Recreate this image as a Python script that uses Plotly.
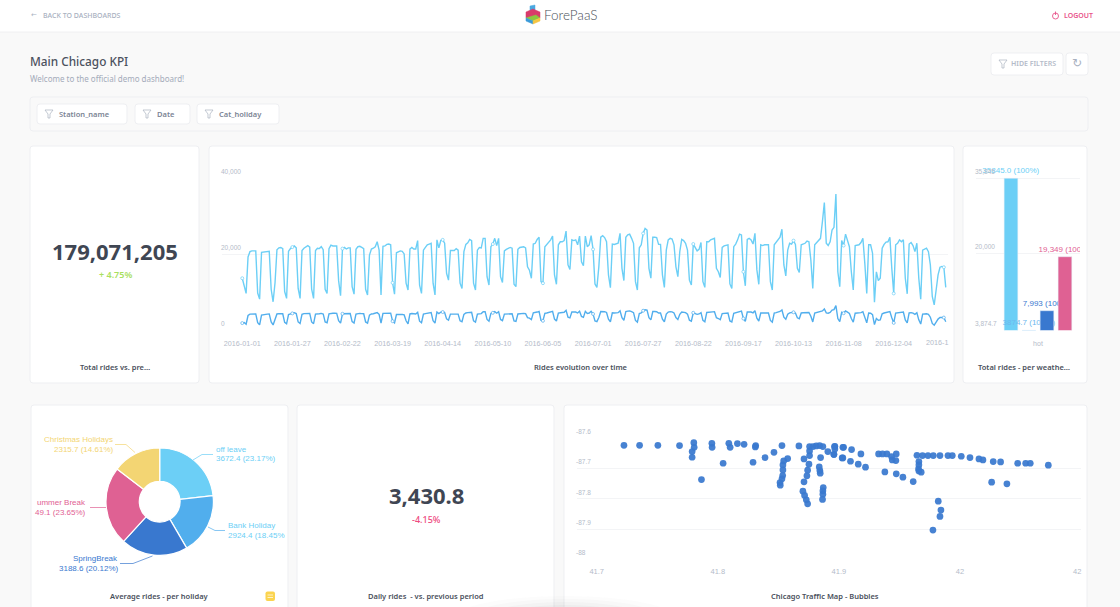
import pandas as pd
import plotly.graph_objects as go

W, H = 1120, 607

# rides per day, 2016-01-01 (fri) to 2016-12-31, one row per week mon..sun
rides_all = [13700, 11200, 9700,
    19300, 20700, 20900, 21000, 20900, 9800, 8200,
    20500, 20600, 20500, 20700, 20800, 10800, 7500,
    12500, 21200, 21700, 21800, 21500, 10200, 8400,
    20800, 21500, 21900, 22200, 21700, 11000, 8400,
    21000, 21600, 22000, 22300, 21900, 10800, 8400,
    21000, 21600, 21500, 22000, 21200, 10800, 9700,
    21500, 22400, 22200, 22300, 22200, 13000, 9100,
    21500, 21800, 21400, 21700, 21700, 11500, 9500,
    21300, 22000, 22100, 21800, 21500, 10800, 9300,
    19800, 21400, 21600, 22000, 23300, 21100, 9300,
    22100, 22200, 22600, 22700, 22500, 12500, 9500,
    20400, 20700, 20900, 20800, 20100, 12400, 10600,
    21400, 21800, 21400, 21400, 23600, 11900, 9700,
    21100, 21800, 22500, 22700, 22900, 12400, 9300,
    23800, 21700, 23600, 23800, 22900, 15000, 13200,
    21000, 21000, 21000, 21500, 21100, 12400, 11000,
    20700, 22600, 23000, 23900, 23600, 12400, 10600,
    21100, 21800, 21700, 24200, 24200, 14100, 11900,
    22000, 22700, 24200, 22300, 24200, 14100, 12600,
    20900, 21300, 21600, 21800, 21600, 12100, 11500,
    21300, 21800, 22000, 22000, 21700, 16700, 15800,
    13700, 22700, 22900, 23900, 24500, 12800, 12400,
    22000, 22600, 23100, 23800, 24800, 14600, 12100,
    22500, 23300, 23300, 23600, 26100, 17200, 16000,
    23800, 23600, 23800, 22500, 24800, 18000, 17000,
    24800, 22000, 22500, 24900, 21300, 12200, 11300,
    16700, 24500, 24900, 24400, 23300, 14600, 11200,
    22700, 22600, 22700, 22900, 25500, 16300, 13100,
    24500, 25100, 25300, 24200, 22900, 12800, 10600,
    21700, 22500, 25500, 26800, 26400, 16300, 13700,
    24500, 24500, 24400, 22600, 22600, 14600, 11300,
    21100, 23800, 24200, 24000, 22500, 16700, 14100,
    20700, 23900, 23600, 22900, 21100, 13200, 11900,
    22700, 21700, 20900, 21300, 23100, 12800, 11300,
    23300, 23300, 23800, 24000, 24200, 16300, 15400,
    13900, 21800, 22200, 22300, 22500, 12200, 11000,
    22000, 22700, 23800, 25300, 25100, 15400, 11700,
    23900, 24200, 23800, 22700, 25500, 15900, 12100,
    22500, 22300, 22500, 22500, 22500, 12800, 10600,
    22500, 23100, 23600, 24500, 26600, 17200, 14300,
    21100, 22900, 22700, 23600, 22600, 16300, 15200,
    22500, 22700, 22900, 23500, 23300, 18500, 11000,
    22500, 23100, 23600, 24200, 28600, 33600, 22900,
    22300, 23300, 26400, 27100, 35845, 15400, 11500,
    23600, 22300, 25300, 23800, 22000, 15400, 10600,
    22300, 22500, 22500, 23100, 24200, 17600, 9700,
    22500, 22500, 20300, 7400, 15400, 13100, 13700,
    21600, 22600, 23200, 23300, 24500, 16300, 9700,
    22500, 22900, 23800, 23300, 23800, 13700, 9600,
    22700, 23100, 22300, 20700, 22900, 13700, 8200,
    21100, 21400, 21600, 20700, 17200, 8900, 6700,
    10600, 14600, 16600, 16800, 16600, 11300]

rides_avg = [1900, 2050, 1600,
    3900, 4250, 4300, 4300, 4300, 2000, 1450,
    4000, 4150, 4200, 4250, 4300, 2200, 1400,
    2600, 4300, 4400, 4400, 4350, 2100, 1700,
    4150, 4350, 4450, 4650, 4400, 2200, 1800,
    4200, 4400, 4450, 4500, 4450, 2200, 1750,
    4250, 4400, 4350, 4450, 4300, 2200, 2000,
    4350, 4500, 4500, 4500, 4450, 2550, 1900,
    4350, 4400, 4300, 4350, 4400, 2300, 1900,
    4250, 4400, 4450, 4400, 4350, 2200, 1900,
    4000, 4300, 4350, 4450, 4650, 4200, 1900,
    4450, 4450, 4550, 4550, 4500, 2400, 1950,
    4150, 4200, 4200, 4200, 4050, 2500, 1700,
    4300, 4400, 4300, 4300, 4750, 2400, 2000,
    4250, 4400, 4550, 4600, 4650, 2500, 1900,
    4800, 4400, 4750, 4800, 4650, 3000, 2650,
    4250, 4250, 4250, 4350, 4250, 2500, 2250,
    4200, 4550, 4650, 4800, 4750, 2500, 2150,
    4250, 4400, 4400, 4900, 4900, 2850, 2400,
    4450, 4600, 4900, 4500, 4900, 2850, 2550,
    4250, 4300, 4350, 4400, 4350, 2450, 2350,
    4300, 4400, 4450, 4450, 4400, 3350, 3200,
    2800, 4600, 4650, 4800, 4950, 2600, 2500,
    4450, 4550, 4650, 4800, 5000, 2950, 2450,
    4550, 4700, 4700, 4750, 5250, 3450, 3250,
    4800, 4750, 4800, 4550, 5000, 3650, 3400,
    5000, 4450, 4550, 5000, 4300, 2450, 2300,
    3350, 4950, 5000, 4900, 4700, 2950, 2250,
    4600, 4550, 4600, 4650, 5150, 3300, 2650,
    4950, 5050, 5100, 4900, 4650, 2600, 2150,
    4400, 4550, 5150, 5400, 5300, 3300, 2750,
    4950, 4950, 4900, 4550, 4550, 2950, 2250,
    4250, 4800, 4900, 4850, 4550, 3350, 2850,
    4200, 4800, 4750, 4650, 4250, 2650, 2400,
    4600, 4400, 4200, 4300, 4650, 2600, 2250,
    4700, 4700, 4800, 4850, 4900, 3300, 3100,
    2800, 4400, 4500, 4500, 4550, 2450, 2200,
    4450, 4600, 4800, 5100, 5050, 3100, 2350,
    4800, 4900, 4800, 4600, 5150, 3200, 2450,
    4550, 4500, 4550, 4550, 4550, 2600, 2150,
    4550, 4650, 4750, 4950, 5350, 3450, 2900,
    4250, 4600, 4600, 4750, 4550, 3300, 3050,
    4550, 4600, 4600, 4750, 4700, 3700, 2200,
    4550, 4650, 4750, 4900, 5100, 5600, 4600,
    4500, 4700, 5300, 5450, 6500, 3100, 2300,
    4750, 4500, 5100, 4800, 4450, 3100, 2150,
    4500, 4550, 4550, 4650, 4900, 3550, 1950,
    4550, 4500, 4100, 1500, 3100, 2650, 2750,
    4350, 4550, 4700, 4700, 4950, 3300, 1950,
    4550, 4600, 4800, 4700, 4800, 2750, 1950,
    4600, 4650, 4500, 4200, 4600, 2750, 1650,
    4250, 4300, 4350, 4200, 3450, 1800, 1350,
    2150, 2950, 3350, 3400, 3350, 2250]

date_ticks = ['2016-01-01', '2016-01-27', '2016-02-22', '2016-03-19', '2016-04-14',
              '2016-05-10', '2016-06-05', '2016-07-01', '2016-07-27', '2016-08-22',
              '2016-09-17', '2016-10-13', '2016-11-08', '2016-12-04']
last_tick = '2016-12-30'
rides_ticks = [0, 20000, 40000]
rides_tick_text = ['0', '20,000', '40,000']

weather_names = ['cold', 'cool', 'warm', 'hot_days']
weather_rides = [35845.0, 3874.7, 7993, 19349]
weather_labels = ['35845.0 (100%)', '3874.7 (100%)', '7,993 (100%)', '19,349 (100%)']
weather_ticks = [3874.7, 20000, 35845]
weather_tick_text = ['3,874.7', '20,000', '35,845']

holiday_names = ['off leave', 'Bank Holiday', 'SpringBreak', 'Summer Break', 'Christmas Holidays']
holiday_rides = [3672.4, 2924.4, 3188.6, 3749.1, 2315.7]

station_lat = [41.7225, 41.7354, 41.7505, 41.7684, 41.7802, 41.7805, 41.7788, 41.7788, 41.7865, 41.7951,
               41.7953, 41.8044, 41.8091, 41.8102, 41.8162, 41.8217, 41.8291, 41.8313, 41.8310, 41.8390,
               41.8464, 41.8530, 41.8577, 41.8544, 41.8538, 41.8538, 41.8536, 41.8530, 41.8514, 41.8516,
               41.8670, 41.8712, 41.8753, 41.8742, 41.8736, 41.8712, 41.8703, 41.8717, 41.8731, 41.8742,
               41.8758, 41.8786, 41.8813, 41.8841, 41.8868, 41.8758, 41.8758, 41.8849, 41.8838, 41.8843,
               41.8846, 41.8871, 41.8868, 41.8868, 41.8865, 41.8909, 41.8959, 41.8964, 41.9033, 41.9027,
               41.8959, 41.8967, 41.8967, 41.9039, 41.9105, 41.9182, 41.9033, 41.9096, 41.9160, 41.9220,
               41.9328, 41.9361, 41.9397, 41.9474, 41.9435, 41.9441, 41.9471, 41.9380, 41.9474, 41.9529,
               41.9614, 41.9645, 41.9691, 41.9736, 41.9780, 41.9835, 41.9901, 41.9937, 42.0011, 42.0083,
               42.0157, 42.0190, 42.0275, 42.0336, 42.0477, 42.0543, 42.0581, 42.0730, 41.9661, 41.9661,
               41.9658, 41.9661, 41.9680, 42.0262, 42.0388, 41.9821, 41.9843, 41.9835, 41.9777]
station_lon = [-87.6231, -87.6231, -87.6231, -87.6242, -87.6143, -87.6297, -87.6440, -87.6626, -87.7363, -87.6165,
               -87.6297, -87.6824, -87.6165, -87.6297, -87.6176, -87.6198, -87.6791, -87.6242, -87.6286, -87.6637,
               -87.6462, -87.6242, -87.6670, -87.6747, -87.6879, -87.7044, -87.7231, -87.7341, -87.7462, -87.7549,
               -87.6253, -87.6681, -87.6857, -87.7055, -87.7242, -87.7440, -87.7747, -87.7890, -87.8033, -87.8165,
               -87.6275, -87.6275, -87.6253, -87.6242, -87.6275, -87.6418, -87.6571, -87.6637, -87.6945, -87.7066,
               -87.7154, -87.7626, -87.7736, -87.7846, -87.8022, -87.6440, -87.6527, -87.6275, -87.6297, -87.6648,
               -87.6538, -87.6264, -87.6352, -87.6297, -87.6374, -87.6516, -87.6648, -87.6758, -87.6857, -87.6956,
               -87.6516, -87.6516, -87.6516, -87.6516, -87.6604, -87.6714, -87.6736, -87.7110, -87.7176, -87.7286,
               -87.7429, -87.6560, -87.6571, -87.6571, -87.6571, -87.6571, -87.6571, -87.6571, -87.6593, -87.6637,
               -87.6681, -87.6714, -87.6769, -87.6780, -87.6824, -87.6824, -87.6824, -87.6890, -87.6769, -87.6879,
               -87.7011, -87.7077, -87.7121, -87.7451, -87.7505, -87.8077, -87.8374, -87.8582, -87.9033]

lat_ticks = [41.7, 41.8, 41.9, 42]
lon_ticks = [-87.6, -87.7, -87.8, -87.9, -88]
lon_tick_text = ['-87.6', '-87.7', '-87.8', '-87.9', '-88']

BG = '#f9f9f9'
BORDER = '#eeeff2'
GRID = '#f3f4f6'
AXIS_TXT = '#b4bbc9'
DARK = '#3f4653'
CAPTION = '#4a505c'
SKY = '#6ccff6'
AZURE = '#51aeed'
BLUE = '#3978cf'
PINK = '#df6193'
SAND = '#f3d573'
SANS = 'Liberation Sans'
UI = 'Noto Sans'


def X(px):
    return px / W


def Y(py):
    return 1 - py / H


def dom_x(a, b):
    return [X(a), X(b)]


def dom_y(top, bottom):
    return [Y(bottom), Y(top)]


def path(points, close=False):
    s = 'M ' + ' L '.join(f'{X(a):.5f},{Y(b):.5f}' for a, b in points)
    return s + (' Z' if close else '')


def rrect(x0, y0, x1, y1, r=3):
    c = [(x0 + r, y0), (x1 - r, y0), (x1, y0), (x1, y0 + r), (x1, y1 - r), (x1, y1), (x1 - r, y1),
         (x0 + r, y1), (x0, y1), (x0, y1 - r), (x0, y0 + r), (x0, y0), (x0 + r, y0)]
    pt = [f'{X(a):.5f},{Y(b):.5f}' for a, b in c]
    return (f'M {pt[0]} L {pt[1]} Q {pt[2]} {pt[3]} L {pt[4]} Q {pt[5]} {pt[6]} '
            f'L {pt[7]} Q {pt[8]} {pt[9]} L {pt[10]} Q {pt[11]} {pt[12]} Z')


shapes = []


def box(x0, y0, x1, y1, fill='white', line=BORDER, r=3):
    shapes.append(dict(type='path', xref='paper', yref='paper', path=rrect(x0, y0, x1, y1, r),
                       fillcolor=fill, line=dict(color=line, width=1), layer='below'))


def stroke(points, color, width=0.8, close=False, fill=None):
    shapes.append(dict(type='path', xref='paper', yref='paper', path=path(points, close),
                       fillcolor=fill if fill else 'rgba(0,0,0,0)', line=dict(color=color, width=width),
                       layer='above'))


notes = []


def label(px, py, text, size=8, color=AXIS_TXT, anchor='left', family=UI, weight=400):
    notes.append(dict(x=X(px), y=Y(py), xref='paper', yref='paper', text=text, showarrow=False,
                      xanchor=anchor, yanchor='middle', align=anchor, borderpad=0, borderwidth=0,
                      font=dict(family=family, size=size, color=color, weight=weight)))


def y_ticks(px, yref, vals, texts):
    # labels sit just above their grid line, on the axis scale
    for v, t in zip(vals, texts):
        notes.append(dict(x=X(px), y=v, xref='paper', yref=yref, text=t, showarrow=False, xanchor='left',
                          yanchor='middle', yshift=6.7, borderpad=0, borderwidth=0,
                          font=dict(family=SANS, size=6.5, color=AXIS_TXT)))


def funnel(cx, cy, color='#a9b1bf'):
    stroke([(cx - 4, cy - 4), (cx + 4, cy - 4), (cx + 1, cy), (cx + 1, cy + 4), (cx - 1, cy + 4), (cx - 1, cy)],
           color, 0.7, close=True)


# page chrome
box(-2, -2, W + 2, 32, line='#f0f0f2', r=0)
box(30, 97, 1088, 131, fill=BG)
for x0, x1, name in [(37, 127, 'Station_name'), (135, 190, 'Date'), (197, 279, 'Cat_holiday')]:
    box(x0, 104, x1, 124)
    funnel(x0 + 12, 114)
    label(x0 + 22, 114, name, size=7.5, color='#7b8494', weight=600)
box(991, 53, 1063, 75)
box(1066, 53, 1088, 75)
funnel(1003, 64)
label(1011, 64, 'HIDE FILTERS', size=7, color='#b4bbc9', weight=600)
label(1077, 63.5, '↻', size=12, color='#a9b1bf', anchor='center', family='DejaVu Sans')
for x0, y0, x1, y1 in [(30, 146, 199, 383), (209, 146, 954, 383), (963, 146, 1087, 383),
                       (31, 405, 288, 612), (297, 405, 554, 612), (564, 405, 1087, 612)]:
    box(x0, y0, x1, y1)

label(31, 15, '←', size=7, color='#a9b1bf', family='DejaVu Sans')
label(43, 15, 'BACK TO DASHBOARDS', size=7, color='#a9b1bf', weight=500)
label(1064, 15, 'LOGOUT', size=7, color='#e8528a', weight=600)
stroke([(1055.5, 11.5), (1055.5, 15)], '#e8528a', 0.9)
shapes.append(dict(type='circle', xref='paper', yref='paper', x0=X(1052.5), x1=X(1058.5), y0=Y(19), y1=Y(13),
                   line=dict(color='#e8528a', width=0.9), layer='above'))
label(544, 15, 'ForePaaS', size=13.5, color='#4a4f58', family='Lato', weight=300)
stroke([(530, 6), (535, 5), (535, 12), (530, 12)], '#4aa8e0', 0.5, True, '#4aa8e0')
stroke([(526, 12), (533, 9), (540, 12), (540, 18), (526, 18)], '#d93a6a', 0.5, True, '#d93a6a')
stroke([(529, 17), (536, 15), (540, 18), (533, 21), (526, 18)], '#8cc63f', 0.5, True, '#8cc63f')
stroke([(526, 18), (533, 21), (533, 24), (526, 21)], '#3a9ad9', 0.5, True, '#3a9ad9')
stroke([(533, 21), (540, 18), (540, 21), (533, 24)], '#f5c542', 0.5, True, '#f5c542')

label(30, 61, 'Main Chicago KPI', size=11.8, color='#4b515e', weight=500)
label(30, 78, 'Welcome to the official demo dashboard!', size=8, color='#a4abb9')

label(115, 251, '179,071,205', size=22, color=DARK, anchor='center', weight=700)
label(115, 274, '+ 4.75%', size=9, color='#a9e05f', anchor='center', weight=600)
label(114.5, 367, 'Total rides vs. pre…', size=7.5, color=CAPTION, anchor='center', weight=600)
label(581, 367, 'Rides evolution over time', size=7.5, color=CAPTION, anchor='center', weight=600)
label(1023.5, 367, 'Total rides - per weathe…', size=7.5, color=CAPTION, anchor='center', weight=600)
label(159.5, 596, 'Average rides - per holiday', size=7.5, color=CAPTION, anchor='center', weight=600)
label(426, 495, '3,430.8', size=22, color=DARK, anchor='center', weight=700)
label(426, 519, '-4.15%', size=9, color='#ee4a80', anchor='center', weight=500)
label(426, 596, 'Daily rides  - vs. previous period', size=7.5, color=CAPTION, anchor='center', weight=600)
label(825, 596, 'Chicago Traffic Map - Bubbles', size=7.5, color=CAPTION, anchor='center', weight=600)

# little note tag next to the holiday caption
shapes.append(dict(type='path', xref='paper', yref='paper', path=rrect(265.5, 591.5, 275, 601, 2),
                   fillcolor='#fbd44f', line=dict(width=0), layer='above'))
stroke([(267.5, 595), (273, 595)], 'white', 0.7)
stroke([(267.5, 597.5), (273, 597.5)], 'white', 0.7)

# pie labels and leader lines
label(216, 449, holiday_names[0], color=SKY, family=SANS)
label(216, 459, '3672.4 (23.17%)', color=SKY, family=SANS)
label(227.7, 525, holiday_names[1], color=SKY, family=SANS)
label(227.7, 535, '2924.4 (18.45%', color=SKY, family=SANS)
label(118.3, 558.3, holiday_names[2], color=BLUE, anchor='right', family=SANS)
label(118.3, 568.3, '3188.6 (20.12%)', color=BLUE, anchor='right', family=SANS)
label(85.7, 502.7, 'ummer Break', color=PINK, anchor='right', family=SANS)
label(85.7, 512.5, '49.1 (23.65%)', color=PINK, anchor='right', family=SANS)
label(112.7, 439.3, holiday_names[4], color=SAND, anchor='right', family=SANS)
label(112.7, 449.3, '2315.7 (14.61%)', color=SAND, anchor='right', family=SANS)
stroke([(193, 460), (202, 454.5), (213, 454.5)], SKY, 0.7)
stroke([(208, 527), (215, 530.5), (225, 530.5)], AZURE, 0.7)
stroke([(152.5, 556), (133, 563.5), (120, 563.5)], BLUE, 0.7)
stroke([(106, 507.5), (90, 507.5)], PINK, 0.7)
stroke([(135, 452.5), (126, 444.5), (115, 444.5)], SAND, 0.7)

# clipped last labels
label(925.5, 342.5, '2016-1', size=7.2, family=SANS)
label(1081, 571, '42', size=7.5, anchor='right', family=SANS)

y_ticks(220.7, 'y', rides_ticks, rides_tick_text)
y_ticks(974.7, 'y2', weather_ticks, weather_tick_text)
y_ticks(576, 'y3', lon_ticks, lon_tick_text)

# soft shadow at the bottom edge
for rx, op in [(110, 0.02), (95, 0.025), (80, 0.03), (65, 0.035), (50, 0.04)]:
    shapes.append(dict(type='circle', xref='paper', yref='paper', x0=X(565 - rx), x1=X(565 + rx),
                       y0=Y(618 + rx * 0.2), y1=Y(618 - rx * 0.2), fillcolor='#555555', opacity=op,
                       line=dict(width=0), layer='above'))

fig = go.Figure()

# rides over time
days = pd.date_range('2016-01-01', periods=len(rides_all), freq='D')
line_df = pd.DataFrame({'all': rides_all, 'avg': rides_avg}, index=days)
marked = line_df.loc[date_ticks + [last_tick]]
for col, color in [('all', SKY), ('avg', AZURE)]:
    fig.add_trace(go.Scatter(x=line_df.index, y=line_df[col], mode='lines', line=dict(color=color, width=1.4),
                             xaxis='x', yaxis='y', showlegend=False))
    fig.add_trace(go.Scatter(x=marked.index, y=marked[col], mode='markers', xaxis='x', yaxis='y', showlegend=False,
                             marker=dict(size=3, color='white', line=dict(color=color, width=0.7))))

# rides per weather type
for name, val, txt, color in zip(weather_names, weather_rides, weather_labels, [SKY, AZURE, BLUE, PINK]):
    fig.add_trace(go.Bar(x=['hot'], y=[val], name=name, text=[txt], textposition='outside', marker_color=color,
                         textangle=0, constraintext='none',
                         textfont=dict(family=SANS, size=8, color=color if color != AZURE else '#6cb8ee'),
                         cliponaxis=True, xaxis='x2', yaxis='y2', showlegend=False))

# rides per holiday
fig.add_trace(go.Pie(labels=holiday_names, values=holiday_rides, hole=0.38, sort=False, direction='clockwise',
                     rotation=0, textinfo='none', marker=dict(colors=[SKY, AZURE, BLUE, PINK, SAND],
                     line=dict(color='white', width=1.2)), domain=dict(x=dom_x(106, 213.4), y=dom_y(448, 555.4)),
                     showlegend=False))

# stations
fig.add_trace(go.Scatter(x=station_lat, y=station_lon, mode='markers', xaxis='x3', yaxis='y3', showlegend=False,
                         marker=dict(size=6.7, color=BLUE, opacity=0.93, line=dict(width=0))))

fig.update_layout(
    width=W, height=H, margin=dict(l=0, r=0, t=0, b=0), autosize=False,
    paper_bgcolor=BG, plot_bgcolor='rgba(0,0,0,0)',
    shapes=shapes, annotations=notes,
    barmode='group', bargap=0.31, bargroupgap=0.24,
    xaxis=dict(domain=dom_x(221.7, 947.7), type='date', range=['2015-12-21 08:00', '2017-01-01'],
               tickvals=date_ticks, ticktext=date_ticks, tickangle=0, showgrid=False, zeroline=False,
               ticks='outside', ticklen=6, tickcolor='rgba(0,0,0,0)', showline=False,
               tickfont=dict(family=SANS, size=7.2, color=AXIS_TXT)),
    yaxis=dict(domain=dom_y(178.3, 330.3), range=[0, 40000], tickvals=rides_ticks, showticklabels=False,
               gridcolor=GRID, gridwidth=0.8, zeroline=False),
    xaxis2=dict(domain=dom_x(975.7, 1080), type='category', range=[-0.597, 0.403], showgrid=False, zeroline=False,
                ticks='outside', ticklen=6, tickcolor='rgba(0,0,0,0)', tickfont=dict(family=SANS, size=7, color=AXIS_TXT)),
    yaxis2=dict(domain=dom_y(160, 330.3), range=[3874.7, 39693], tickvals=weather_ticks, showticklabels=False,
                gridcolor=GRID, gridwidth=0.8, zeroline=False, anchor='x2'),
    xaxis3=dict(domain=dom_x(577, 1081), range=[41.6837, 42.1], tickvals=lat_ticks,
                ticktext=['41.7', '41.8', '41.9', '42'], showgrid=False, zeroline=False, ticks='outside', ticklen=5,
                tickcolor='rgba(0,0,0,0)', tickfont=dict(family=SANS, size=7.5, color=AXIS_TXT), anchor='y3'),
    yaxis3=dict(domain=dom_y(438.3, 559.3), range=[-88, -87.6], tickvals=lon_ticks, showticklabels=False,
                gridcolor=GRID, gridwidth=0.8, zeroline=False, anchor='x3'),
)

fig.write_html("out.html", config=dict(displayModeBar=False),
               post_script="document.body.style.margin='0';document.body.style.overflow='hidden';")
